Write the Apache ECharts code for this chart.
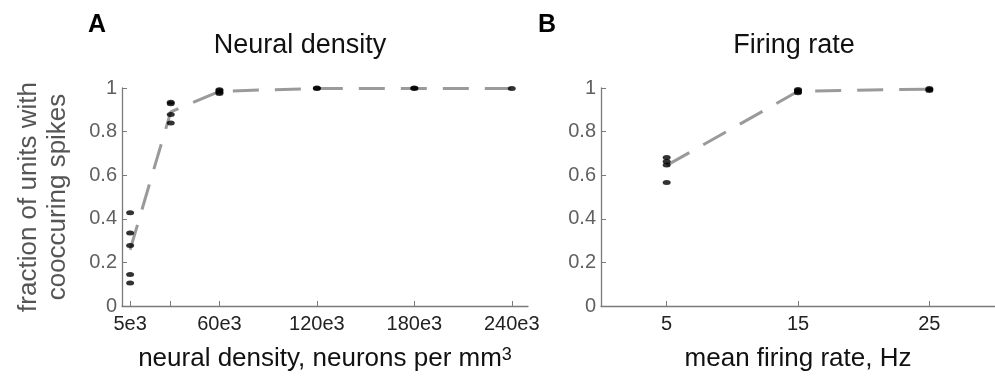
<!DOCTYPE html>
<html><head><meta charset="utf-8">
<script src="https://cdn.jsdelivr.net/npm/echarts@6/dist/echarts.min.js"></script>
<style>html,body{margin:0;padding:0;background:#fff}#c{width:995px;height:377px}</style>
</head><body><div id="c"></div>
<script>
// Panel A: neural density
const densityX = [5000, 30000, 60000, 120000, 180000, 240000];
const densityValues = [
  [0.428, 0.335, 0.277, 0.144, 0.105],
  [0.935, 0.928, 0.878, 0.839],
  [0.975, 0.981, 0.987, 0.992],
  [0.998, 1.0],
  [0.998, 1.0],
  [0.998]
];
const densityMean = [0.258, 0.89, 0.985, 0.998, 0.998, 0.998];
const densityTicks = [5000, 30000, 60000, 120000, 180000, 240000];
const densityLabels = [5000, 60000, 120000, 180000, 240000];
// Panel B: firing rate
const rateX = [5, 15, 25];
const rateValues = [
  [0.681, 0.663, 0.647, 0.566],
  [0.978, 0.983, 0.988, 0.993],
  [0.988, 0.993, 0.998]
];
const rateMean = [0.645, 0.985, 0.995];
const rateTicks = [5, 15, 25];

const FONT = 'Liberation Sans, Arial, sans-serif';
const AXIS_COLOR = '#7a7a7a';

function pts(xs, vals) {
  const out = [];
  xs.forEach((x, i) => vals[i].forEach(v => out.push([x, v])));
  return out;
}
function yAxis(gi, withName) {
  const a = {
    gridIndex: gi, type: 'value', min: 0, max: 1, interval: 0.2,
    axisLine: { show: true, lineStyle: { color: AXIS_COLOR, width: 1.3 } },
    axisTick: { show: true, inside: true, length: 5, lineStyle: { color: AXIS_COLOR } },
    splitLine: { show: false },
    axisLabel: { color: '#606060', fontSize: 20, fontFamily: FONT, margin: 5,
      formatter: v => v === 0 ? '0' : (v === 1 ? '1' : v.toFixed(1)) }
  };
  if (withName) {
    a.name = 'fraction of units with\ncooccuring spikes';
    a.nameLocation = 'middle';
    a.nameGap = 50;
    a.nameTextStyle = { fontSize: 26, color: '#555555', fontFamily: FONT, lineHeight: 29 };
  }
  return a;
}

const chart = echarts.init(document.getElementById('c'), null, { renderer: 'canvas' });
const option = {
  animation: false,
  backgroundColor: '#fff',
  grid: [
    { left: 122, top: 88, width: 406, height: 225 },
    { left: 601, top: 88, width: 404, height: 225 }
  ],
  xAxis: [
    {
      gridIndex: 0, type: 'value', min: 0, max: 250000,
      axisLine: { show: true, onZero: false, lineStyle: { color: AXIS_COLOR, width: 1.3 } },
      axisTick: { show: true, inside: true, length: 5, customValues: densityTicks, lineStyle: { color: AXIS_COLOR } },
      axisLabel: { customValues: densityLabels, color: '#222', fontSize: 20, fontFamily: FONT, margin: 8,
        formatter: v => (v / 1000) + 'e3' },
      splitLine: { show: false },
      name: 'neural density, neurons per mm{s|3}',
      nameLocation: 'middle', nameGap: 40,
      nameTextStyle: { fontSize: 26, color: '#111', fontFamily: FONT,
        rich: { s: { fontSize: 18, color: '#111', fontFamily: FONT, verticalAlign: 'top' } } }
    },
    {
      gridIndex: 1, type: 'value', min: 0, max: 30,
      axisLine: { show: true, onZero: false, lineStyle: { color: AXIS_COLOR, width: 1.3 } },
      axisTick: { show: true, inside: true, length: 5, customValues: rateTicks, lineStyle: { color: AXIS_COLOR } },
      axisLabel: { customValues: rateTicks, color: '#222', fontSize: 20, fontFamily: FONT, margin: 8 },
      splitLine: { show: false },
      name: 'mean firing rate, Hz',
      nameLocation: 'middle', nameGap: 40,
      nameTextStyle: { fontSize: 26, color: '#111', fontFamily: FONT }
    }
  ],
  yAxis: [yAxis(0, true), yAxis(1, false)],
  graphic: [
    { type: 'text', left: 88, top: 13, style: { text: 'A', font: 'bold 25px ' + FONT, fill: '#000' } },
    { type: 'text', left: 538, top: 13, style: { text: 'B', font: 'bold 25px ' + FONT, fill: '#000' } },
    { type: 'text', x: 300, y: 46, style: { text: 'Neural density', font: '27px ' + FONT, fill: '#111', textAlign: 'center', textVerticalAlign: 'middle' } },
    { type: 'text', x: 794, y: 46, style: { text: 'Firing rate', font: '27px ' + FONT, fill: '#111', textAlign: 'center', textVerticalAlign: 'middle' } }
  ],
  series: [
    { type: 'line', xAxisIndex: 0, yAxisIndex: 0, data: densityX.map((x, i) => [x, densityMean[i]]),
      showSymbol: false, symbol: 'none', lineStyle: { color: '#9a9a9a', width: 3, type: [26, 16] }, z: 2 },
    { type: 'scatter', xAxisIndex: 0, yAxisIndex: 0, data: pts(densityX, densityValues),
      symbol: 'circle', symbolSize: [8, 5], itemStyle: { color: '#000' }, z: 3 },
    { type: 'line', xAxisIndex: 1, yAxisIndex: 1, data: rateX.map((x, i) => [x, rateMean[i]]),
      showSymbol: false, symbol: 'none', lineStyle: { color: '#9a9a9a', width: 3, type: [26, 16] }, z: 2 },
    { type: 'scatter', xAxisIndex: 1, yAxisIndex: 1, data: pts(rateX, rateValues),
      symbol: 'circle', symbolSize: [8, 5], itemStyle: { color: '#000' }, z: 3 }
  ]
};
chart.setOption(option);
</script>
</body></html>
